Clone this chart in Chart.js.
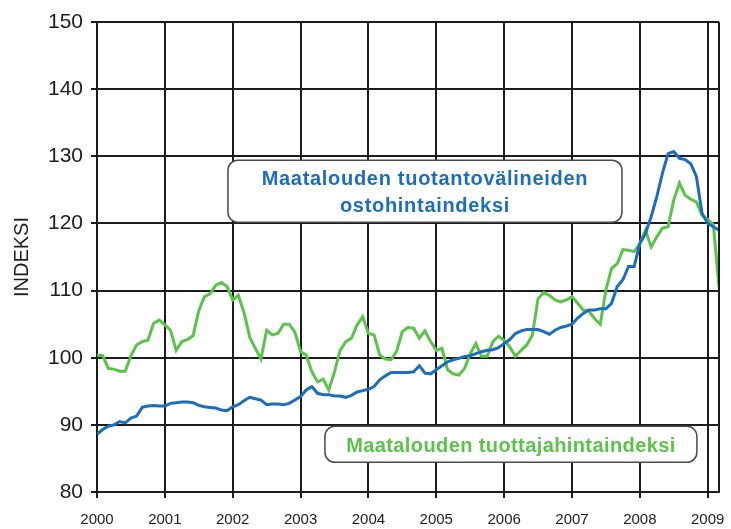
<html>
<head>
<script src="https://cdn.jsdelivr.net/npm/chart.js"></script>
<style>
  body { margin: 0; background: #fff; }
  canvas { display: block; }
</style>
</head>
<body>
<canvas id="myChart" width="731" height="529"></canvas>
<script>
// x-akseli: kuukaudet 2000/01 - 2009/03, vuosimerkit joka 12. kuukausi
var years = [2000, 2001, 2002, 2003, 2004, 2005, 2006, 2007, 2008, 2009];

// Maatalouden tuotantovälineiden ostohintaindeksi (sininen)
var ostohinta = [
  88.6, 89.3, 89.8, 90.0, 90.5, 90.3, 91.0, 91.3, 92.6, 92.8, 92.9, 92.8,
  92.8, 93.2, 93.3, 93.4, 93.4, 93.3, 92.9, 92.7, 92.6, 92.5, 92.2, 92.1,
  92.7, 93.0, 93.6, 94.1, 93.9, 93.7, 93.0, 93.1, 93.1, 93.0, 93.2, 93.7,
  94.2, 95.2, 95.7, 94.7, 94.5, 94.5, 94.3, 94.3, 94.1, 94.4, 94.9, 95.1,
  95.3, 95.7, 96.7, 97.3, 97.8, 97.8, 97.8, 97.8, 97.9, 98.8, 97.7, 97.6,
  98.2, 98.8, 99.4, 99.7, 99.9, 100.2, 100.3, 100.6, 100.9, 101.1, 101.2, 101.5,
  102.1, 102.7, 103.6, 104.0, 104.2, 104.2, 104.2, 103.9, 103.5, 104.1, 104.5, 104.7,
  105.0, 105.9, 106.6, 107.1, 107.1, 107.3, 107.3, 108.1, 110.6, 111.6, 113.6, 113.6,
  117.0, 118.5, 121.0, 124.0, 127.5, 130.4, 130.7, 129.7, 129.5, 128.9, 127.0, 121.5,
  120.0, 119.5, 119.0
];

// Maatalouden tuottajahintaindeksi (vihreä)
var tuottajahinta = [
  100.4, 100.3, 98.4, 98.3, 98.0, 98.0, 100.3, 101.9, 102.4, 102.6, 105.1, 105.6,
  104.9, 104.1, 101.1, 102.4, 102.7, 103.3, 107.0, 109.1, 109.5, 110.8, 111.2, 110.6,
  108.6, 109.3, 106.7, 103.1, 101.4, 99.8, 104.1, 103.4, 103.6, 105.0, 105.0, 103.8,
  100.9, 100.4, 97.9, 96.4, 96.8, 95.2, 97.9, 101.1, 102.4, 102.9, 104.9, 106.1,
  103.6, 103.4, 100.4, 99.8, 99.7, 101.0, 103.9, 104.5, 104.4, 102.9, 104.0, 102.4,
  101.1, 101.4, 98.2, 97.6, 97.4, 98.4, 100.6, 102.1, 100.2, 100.2, 102.4, 103.2,
  102.6, 101.6, 100.2, 101.1, 101.9, 103.4, 108.8, 109.7, 109.3, 108.6, 108.3, 108.6,
  109.1, 108.1, 107.1, 106.9, 105.8, 105.0, 110.1, 113.3, 114.0, 116.1, 116.0, 115.8,
  117.0, 119.0, 116.5, 118.0, 119.3, 119.5, 123.5, 126.0, 124.2, 123.6, 123.2, 121.2,
  120.6, 119.8, 110.5
];

var blue = '#1c6dbf';
var green = '#5cc34a';

// tekstilaatikot, keskipiste akselien arvoina
var boxes = [
  { x: 58.0, y: 124.8, w: 394, h: 62, color: blue, spacing: 0.7, lines: ['Maatalouden tuotantovälineiden', 'ostohintaindeksi'] },
  { x: 73.2, y: 87.1, w: 372, h: 36, color: green, spacing: 0.4, lines: ['Maatalouden tuottajahintaindeksi'] }
];

var toPoints = function(values) {
  return values.map(function(v, i) { return { x: i, y: v }; });
};

var roundRect = function(ctx, x, y, w, h, r) {
  ctx.beginPath();
  ctx.moveTo(x + r, y);
  ctx.lineTo(x + w - r, y);
  ctx.arcTo(x + w, y, x + w, y + r, r);
  ctx.lineTo(x + w, y + h - r);
  ctx.arcTo(x + w, y + h, x + w - r, y + h, r);
  ctx.lineTo(x + r, y + h);
  ctx.arcTo(x, y + h, x, y + h - r, r);
  ctx.lineTo(x, y + r);
  ctx.arcTo(x, y, x + r, y, r);
  ctx.closePath();
};

var framePlugin = {
  id: 'frame',
  afterDatasetsDraw: function(chart) {
    var ctx = chart.ctx;
    var a = chart.chartArea;
    ctx.save();
    ctx.strokeStyle = '#1c1c1c';
    ctx.lineWidth = 2;
    ctx.beginPath();
    ctx.moveTo(a.right, a.top);
    ctx.lineTo(a.right, a.bottom);
    ctx.stroke();

    var xs = chart.scales.x, ys = chart.scales.y;
    boxes.forEach(function(b) {
      var cx = xs.getPixelForValue(b.x);
      var cy = ys.getPixelForValue(b.y);
      var left = cx - b.w / 2, top = cy - b.h / 2;
      roundRect(ctx, left, top, b.w, b.h, 10);
      ctx.fillStyle = '#fff';
      ctx.fill();
      ctx.strokeStyle = '#4a4a4a';
      ctx.lineWidth = 1.5;
      ctx.stroke();
      ctx.fillStyle = b.color;
      ctx.font = 'bold 20px "Liberation Sans", Arial, sans-serif';
      ctx.letterSpacing = b.spacing + 'px';
      ctx.textAlign = 'center';
      ctx.textBaseline = 'middle';
      var lh = 27;
      var y0 = cy + 2 - (b.lines.length - 1) * lh / 2;
      b.lines.forEach(function(t, i) {
        ctx.fillText(t, cx, y0 + i * lh);
      });
    });
    ctx.restore();
  }
};

var chart = function() {
  var ctx = document.getElementById('myChart').getContext('2d');
  var myChart = new Chart(ctx, {
    type: 'line',
    data: {
      datasets: [
        {
          label: 'Maatalouden tuotantovälineiden ostohintaindeksi',
          data: toPoints(ostohinta),
          borderColor: blue,
          borderWidth: 3,
          pointRadius: 0,
          tension: 0,
          fill: false
        },
        {
          label: 'Maatalouden tuottajahintaindeksi',
          data: toPoints(tuottajahinta),
          borderColor: green,
          borderWidth: 3,
          pointRadius: 0,
          tension: 0,
          fill: false
        }
      ]
    },
    options: {
      responsive: false,
      animation: false,
      devicePixelRatio: 1,
      layout: { padding: { top: 22, right: 12, left: 0, bottom: 0 } },
      plugins: {
        legend: { display: false },
        tooltip: { enabled: false }
      },
      scales: {
        x: {
          type: 'linear',
          min: 0,
          max: 110,
          afterBuildTicks: function(scale) {
            scale.ticks = years.map(function(y, i) { return { value: i * 12 }; });
          },
          afterFit: function(scale) {
            scale.height = 37;
            scale.paddingLeft = 0;
            scale.paddingRight = 0;
          },
          ticks: {
            autoSkip: false,
            maxRotation: 0,
            padding: 13,
            color: '#1c1c1c',
            font: { family: '"Liberation Sans", Arial', size: 15 },
            callback: function(v) { return String(years[Math.round(v / 12)]); }
          },
          grid: { color: '#1c1c1c', lineWidth: 2, tickLength: 6 },
          border: { color: '#1c1c1c', width: 2 }
        },
        y: {
          min: 80,
          max: 150,
          afterFit: function(scale) { scale.width = 97; },
          ticks: {
            stepSize: 10,
            padding: 8,
            color: '#1c1c1c',
            font: { family: '"Liberation Sans", Arial', size: 21 }
          },
          grid: { color: '#1c1c1c', lineWidth: 2, tickLength: 6 },
          border: { color: '#1c1c1c', width: 2 },
          title: {
            display: true,
            text: 'INDEKSI',
            color: '#1c1c1c',
            padding: { top: 10, bottom: 0 },
            font: { family: '"Liberation Sans", Arial', size: 20 }
          }
        }
      }
    },
    plugins: [framePlugin]
  });
};

window.onload = function() {
  chart();
};
</script>
</body>
</html>
